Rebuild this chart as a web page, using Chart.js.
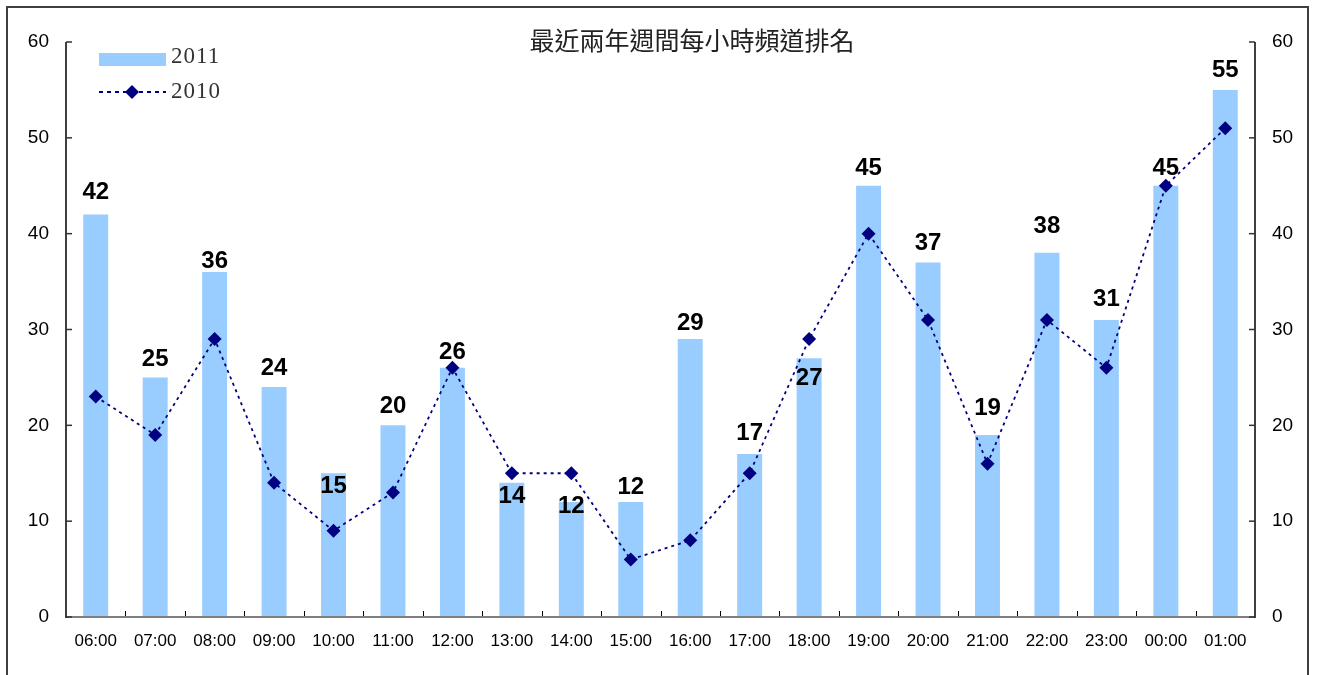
<!DOCTYPE html>
<html>
<head>
<meta charset="utf-8">
<script src="https://cdn.jsdelivr.net/npm/chart.js@4"></script>
<style>
  html, body { margin: 0; padding: 0; background: #fff; }
  #c { display: block; }
</style>
</head>
<body>
<canvas id="c" width="1317" height="675"></canvas>
<script>
// ---- data ----
const categories = ['06:00','07:00','08:00','09:00','10:00','11:00','12:00','13:00','14:00','15:00',
                    '16:00','17:00','18:00','19:00','20:00','21:00','22:00','23:00','00:00','01:00'];
const values2011 = [42,25,36,24,15,20,26,14,12,12,29,17,27,45,37,19,38,31,45,55];
const values2010 = [23,19,29,14,9,13,26,15,15,6,8,15,29,40,31,16,31,26,45,51];
const yTicks = [0,10,20,30,40,50,60];
const seriesNames = ['2011','2010'];
const titleText = '最近兩年週間每小時頻道排名';

// ---- styles ----
const barColor = '#99CCFF';
const lineColor = '#000080';
// vertical shift of each bar's value label relative to its bar top (px)
const labelDy = [-22,-18,-11,-19,13,-19,-15,14,4,-15,-16,-21,20,-17,-19,-27,-26,-21,-17,-20];

const framePlugin = {
  id: 'frame',
  beforeDraw(chart) {
    const ctx = chart.ctx;
    ctx.save();
    ctx.fillStyle = '#fff';
    ctx.fillRect(0, 0, chart.width, chart.height);
    ctx.strokeStyle = '#404040';
    ctx.lineWidth = 2;
    ctx.strokeRect(7, 7, 1301, 700);
    ctx.restore();
  }
};

const axesPlugin = {
  id: 'axesDraw',
  afterDatasetsDraw(chart) {
    const ctx = chart.ctx;
    const a = chart.chartArea;
    const x = chart.scales.x, y = chart.scales.y, y2 = chart.scales.y2;
    ctx.save();
    // x axis line
    ctx.strokeStyle = '#7f7f7f';
    ctx.lineWidth = 2;
    ctx.beginPath();
    ctx.moveTo(a.left, y.getPixelForValue(0));
    ctx.lineTo(a.right, y.getPixelForValue(0));
    ctx.stroke();
    // x ticks between categories (inward)
    ctx.strokeStyle = '#000';
    ctx.lineWidth = 1;
    const yb = Math.round(y.getPixelForValue(0));
    for (let i = 1; i < categories.length; i++) {
      const px = Math.round((x.getPixelForTick(i - 1) + x.getPixelForTick(i)) / 2) + 0.5;
      ctx.beginPath();
      ctx.moveTo(px, yb - 1);
      ctx.lineTo(px, yb - 6);
      ctx.stroke();
    }
    // left and right axis lines
    ctx.strokeStyle = '#000';
    ctx.lineWidth = 1.5;
    ctx.beginPath();
    ctx.moveTo(a.left, y.getPixelForValue(yTicks[yTicks.length - 1]));
    ctx.lineTo(a.left, y.getPixelForValue(0) + 1);
    ctx.moveTo(a.right, y2.getPixelForValue(yTicks[yTicks.length - 1]));
    ctx.lineTo(a.right, y2.getPixelForValue(0) + 1);
    ctx.stroke();
    // inward y ticks
    ctx.strokeStyle = '#333';
    ctx.lineWidth = 1.5;
    yTicks.forEach(v => {
      const py = y.getPixelForValue(v);
      ctx.beginPath();
      ctx.moveTo(a.left, py);
      ctx.lineTo(a.left + 6, py);
      ctx.stroke();
      const py2 = y2.getPixelForValue(v);
      ctx.beginPath();
      ctx.moveTo(a.right, py2);
      ctx.lineTo(a.right - 6, py2);
      ctx.stroke();
    });
    ctx.restore();
  },
  afterDraw(chart) {
    const ctx = chart.ctx;
    ctx.save();
    // value labels on bars
    const meta = chart.getDatasetMeta(0);
    ctx.font = 'bold 24px "Liberation Sans", Arial, sans-serif';
    ctx.fillStyle = '#000';
    ctx.textAlign = 'center';
    ctx.textBaseline = 'middle';
    meta.data.forEach((el, i) => {
      ctx.fillText(String(values2011[i]), el.x, el.y + labelDy[i]);
    });
    // title
    ctx.font = '25px "Noto Sans CJK TC", "Noto Sans CJK SC", sans-serif';
    ctx.fillStyle = '#222';
    ctx.textAlign = 'center';
    ctx.fillText(titleText, 692, 40);
    // legend
    ctx.fillStyle = barColor;
    ctx.fillRect(99, 53, 67, 13);
    ctx.strokeStyle = lineColor;
    ctx.lineWidth = 2;
    ctx.setLineDash([4, 4]);
    ctx.beginPath();
    ctx.moveTo(99, 92);
    ctx.lineTo(166, 92);
    ctx.stroke();
    ctx.setLineDash([]);
    ctx.fillStyle = lineColor;
    ctx.beginPath();
    ctx.moveTo(132, 85); ctx.lineTo(139, 92); ctx.lineTo(132, 99); ctx.lineTo(125, 92);
    ctx.closePath();
    ctx.fill();
    ctx.font = '23px "Liberation Serif", "Times New Roman", serif';
    ctx.fillStyle = '#333';
    ctx.textAlign = 'left';
    ctx.textBaseline = 'middle';
    ctx.letterSpacing = '1px';
    ctx.fillText(seriesNames[0], 171, 57);
    ctx.fillText(seriesNames[1], 171, 92);
    ctx.restore();
  }
};

const tickFont = { family: '"Liberation Sans", Arial, sans-serif', size: 19 };

new Chart(document.getElementById('c'), {
  data: {
    labels: categories,
    datasets: [
      {
        type: 'bar',
        label: seriesNames[0],
        data: values2011,
        backgroundColor: barColor,
        borderWidth: 0,
        barPercentage: 0.42,
        categoryPercentage: 1.0,
        order: 2
      },
      {
        type: 'line',
        label: seriesNames[1],
        data: values2010,
        borderColor: lineColor,
        borderWidth: 1.8,
        borderDash: [3, 4],
        backgroundColor: lineColor,
        pointStyle: 'rectRot',
        pointRadius: 7,
        pointBorderWidth: 0,
        pointBackgroundColor: lineColor,
        tension: 0,
        fill: false,
        order: 1
      }
    ]
  },
  options: {
    responsive: false,
    animation: false,
    layout: { padding: { left: 0, right: 0, top: 42, bottom: 0 } },
    plugins: {
      legend: { display: false },
      title: { display: false },
      tooltip: { enabled: false }
    },
    scales: {
      x: {
        type: 'category',
        offset: true,
        grid: { display: false, drawTicks: false },
        border: { display: false },
        ticks: {
          font: { family: '"Liberation Sans", Arial, sans-serif', size: 17 },
          color: '#000',
          padding: 14,
          maxRotation: 0,
          autoSkip: false
        },
        afterFit(s) { s.height = 58; }
      },
      y: {
        position: 'left',
        min: 0,
        max: 60,
        grid: { display: false, drawTicks: false },
        border: { display: false },
        afterBuildTicks(s) { s.ticks = yTicks.map(v => ({ value: v })); },
        ticks: { font: tickFont, color: '#000', padding: 17 },
        afterFit(s) { s.width = 66; }
      },
      y2: {
        position: 'right',
        min: 0,
        max: 60,
        grid: { display: false, drawTicks: false },
        border: { display: false },
        afterBuildTicks(s) { s.ticks = yTicks.map(v => ({ value: v })); },
        ticks: { font: tickFont, color: '#000', padding: 17 },
        afterFit(s) { s.width = 62; }
      }
    }
  },
  plugins: [framePlugin, axesPlugin]
});
</script>
</body>
</html>
